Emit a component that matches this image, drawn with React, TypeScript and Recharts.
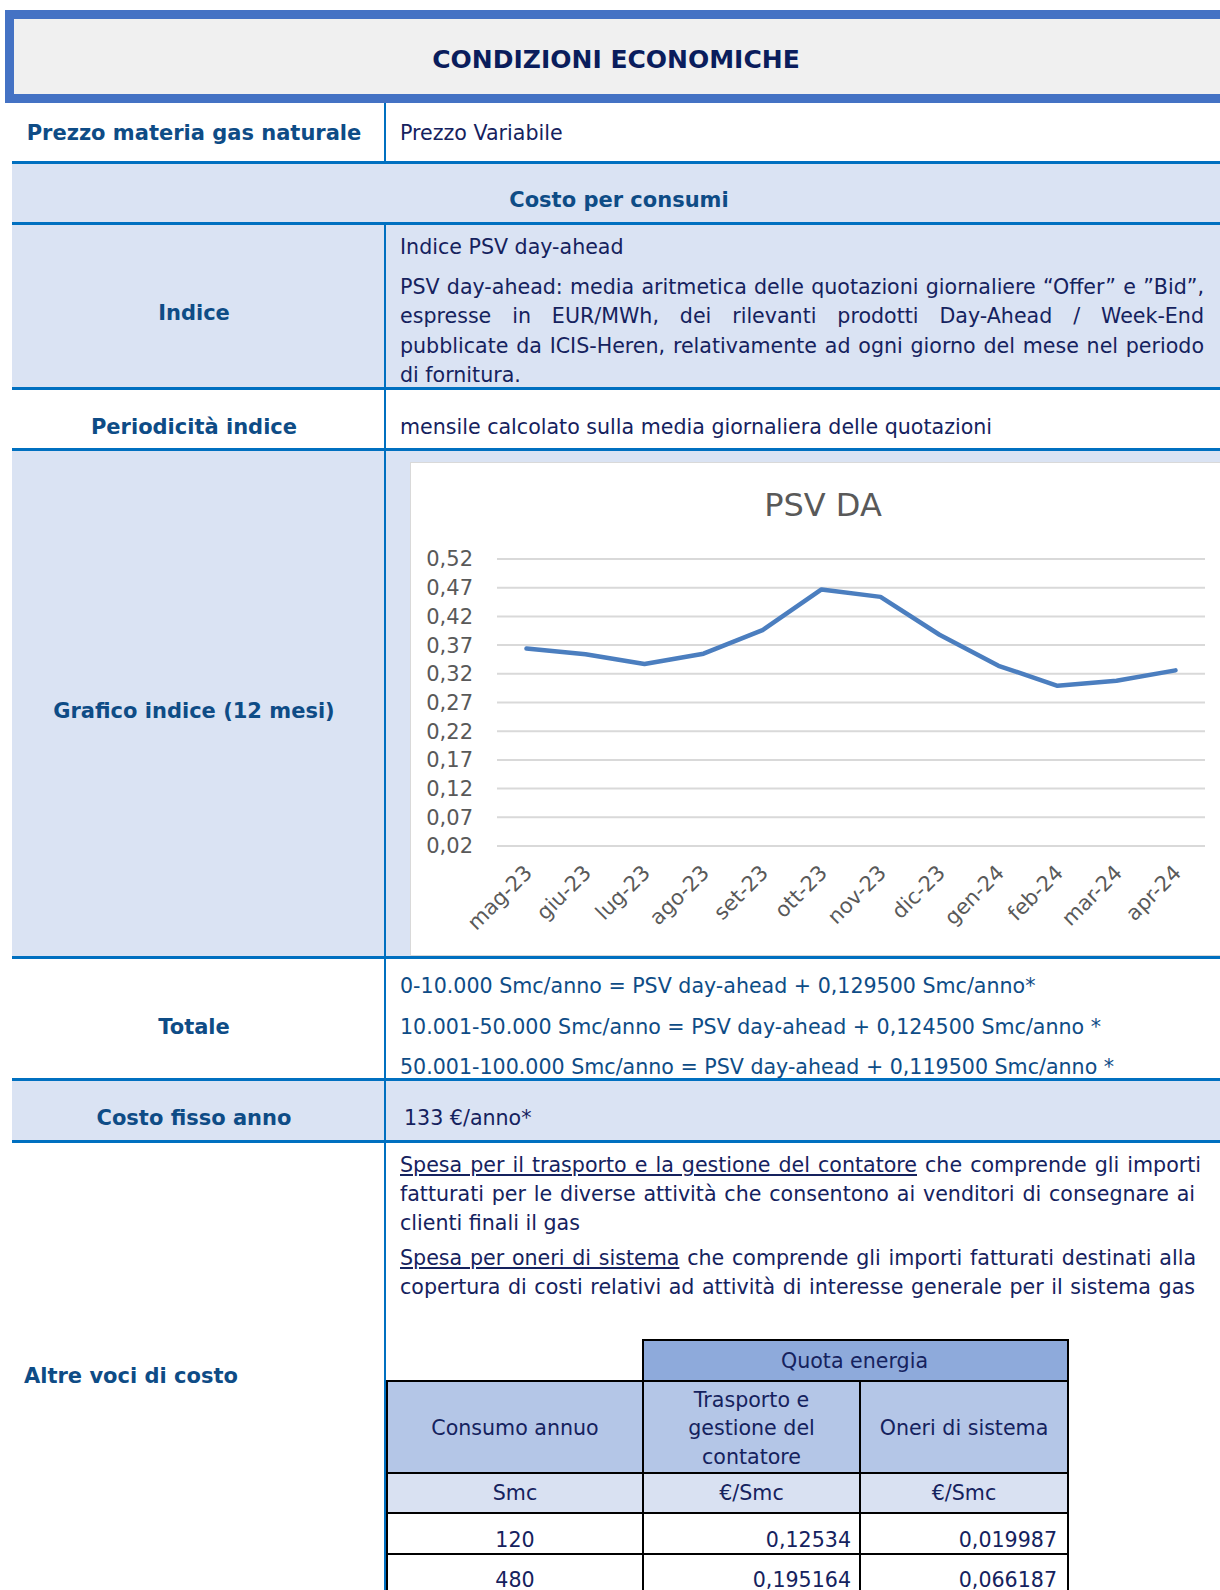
import React from 'react';
import { LineChart, Line, XAxis, YAxis, CartesianGrid } from 'recharts';

const months = ['mag-23', 'giu-23', 'lug-23', 'ago-23', 'set-23', 'ott-23', 'nov-23', 'dic-23', 'gen-24', 'feb-24', 'mar-24', 'apr-24'];
const psvValues = [0.364, 0.354, 0.337, 0.355, 0.396, 0.467, 0.454, 0.388, 0.334, 0.299, 0.308, 0.326];
const yTicks = [0.02, 0.07, 0.12, 0.17, 0.22, 0.27, 0.32, 0.37, 0.42, 0.47, 0.52];

const totaleLines = [
  '0-10.000 Smc/anno = PSV day-ahead + 0,129500 Smc/anno*',
  '10.001-50.000 Smc/anno = PSV day-ahead + 0,124500 Smc/anno *',
  '50.001-100.000 Smc/anno = PSV day-ahead + 0,119500 Smc/anno *',
];
const indiceLines = [
  'PSV day-ahead: media aritmetica delle quotazioni giornaliere \u201COffer\u201D e \u201DBid\u201D,',
  'espresse in EUR/MWh, dei rilevanti prodotti Day-Ahead / Week-End',
  'pubblicate da ICIS-Heren, relativamente ad ogni giorno del mese nel periodo',
  'di fornitura.',
];
const tableHeaders = ['Consumo annuo', 'Trasporto e|gestione del|contatore', 'Oneri di sistema'];
const tableUnits = ['Smc', '\u20AC/Smc', '\u20AC/Smc'];
const consumi = ['120', '480'];
const trasporto = ['0,12534', '0,195164'];
const oneri = ['0,019987', '0,066187'];

const data = months.map((m, i) => ({ m, v: psvValues[i] }));

const FONT = '"DejaVu Sans", Verdana, sans-serif';
const LABEL = '#0E4C86';
const BODY = '#15225E';
const LINE = '#0070C0';
const LIGHT = '#DAE3F3';

type TP = { x: number; y: number; w?: number; align?: 'left' | 'center' | 'right'; bold?: boolean; color?: string; size?: number; justify?: boolean; children: React.ReactNode };
const T = ({ x, y, w, align = 'left', bold, color = BODY, size, justify, children }: TP) => (
  <div
    style={{
      position: 'absolute',
      left: align === 'center' && w === undefined ? x - 300 : x,
      top: y - 15,
      width: w !== undefined ? w : align === 'center' ? 600 : undefined,
      height: 30,
      lineHeight: '30px',
      fontSize: size !== undefined ? size : bold ? 21 : 20.6,
      fontWeight: bold ? 700 : 400,
      color,
      textAlign: justify ? 'justify' : align,
      textAlignLast: justify ? 'justify' : undefined,
      whiteSpace: 'nowrap',
      fontFamily: FONT,
    } as React.CSSProperties}
  >
    {children}
  </div>
);

const Box = ({ x, y, w, h, bg, style }: { x: number; y: number; w: number; h: number; bg?: string; style?: React.CSSProperties }) => (
  <div style={{ position: 'absolute', left: x, top: y, width: w, height: h, background: bg, boxSizing: 'border-box', ...style }} />
);

const XTick = (props: any) => {
  const { x, y, payload } = props;
  const ax = x + 7;
  const ay = y + 20;
  return (
    <text x={ax} y={ay} transform={`rotate(-45, ${ax}, ${ay})`} textAnchor="end" fill="#595959" fontSize={21} fontFamily={FONT}>
      {payload.value}
    </text>
  );
};

const Chart = () => (
  <div style={{ position: 'absolute', left: 410, top: 462, width: 830, height: 494, background: '#fff', border: '1px solid #D9D9D9', boxSizing: 'border-box' }}>
    <div style={{ position: 'absolute', left: 412 - 200, top: 22, width: 400, textAlign: 'center', fontSize: 32, color: '#595959', fontFamily: FONT, lineHeight: '40px' }}>PSV DA</div>
    <div style={{ position: 'absolute', left: -1, top: -1 }}>
      <LineChart width={810} height={493} data={data} margin={{ top: 97, right: 15, bottom: 0, left: 0 }}>
        <CartesianGrid horizontal vertical={false} stroke="#D9D9D9" strokeWidth={2} />
        <XAxis dataKey="m" height={109} axisLine={false} tickLine={false} interval={0} padding={{ left: 29.5, right: 29.5 }} tick={<XTick />} />
        <YAxis
          width={87}
          domain={[0.02, 0.52]}
          ticks={yTicks}
          type="number"
          axisLine={false}
          tickLine={false}
          tickSize={0}
          tickMargin={24}
          interval={0}
          tick={{ fill: '#595959', fontSize: 21, fontFamily: FONT }}
          tickFormatter={(v: number) => v.toFixed(2).replace('.', ',')}
        />
        <Line dataKey="v" stroke="#4B7EBF" strokeWidth={4.5} dot={false} isAnimationActive={false} strokeLinejoin="round" strokeLinecap="round" />
      </LineChart>
    </div>
  </div>
);

const hLines = [161, 222, 387, 448, 956, 1078, 1140];

export default function App() {
  const colX = [386, 642, 859, 1067];
  const rowY = [1380, 1472, 1512, 1553, 1594];
  const border = '2.5px solid #000';
  return (
    <div style={{ position: 'absolute', left: 0, top: 0, width: 1220, height: 1590, overflow: 'hidden', background: '#fff', fontFamily: FONT }}>
      {/* header */}
      <Box x={5} y={10} w={1230} h={93} bg="#F0F0F0" style={{ borderTop: '9px solid #4472C4', borderBottom: '9px solid #4472C4', borderLeft: '9px solid #4472C4' }} />
      <T x={616} y={60} align="center" bold size={25} color="#0A1D5C">CONDIZIONI ECONOMICHE</T>

      {/* light rows */}
      <Box x={12} y={162} w={1210} h={62} bg={LIGHT} />
      <Box x={12} y={224} w={1210} h={164} bg={LIGHT} />
      <Box x={12} y={450} w={1210} h={507} bg={LIGHT} />
      <Box x={12} y={1080} w={1210} h={62} bg={LIGHT} />

      {hLines.map((y) => (
        <Box key={y} x={12} y={y} w={1210} h={3} bg={LINE} />
      ))}
      <Box x={384} y={103} w={2} h={59} bg={LINE} />
      <Box x={384} y={224} w={2} h={1370} bg={LINE} />

      {/* row 1 */}
      <T x={194} y={133} align="center" bold color={LABEL}>Prezzo materia gas naturale</T>
      <T x={400} y={133}>Prezzo Variabile</T>

      <T x={619} y={200} align="center" bold color={LABEL}>Costo per consumi</T>

      <T x={194} y={313} align="center" bold color={LABEL}>Indice</T>
      <T x={400} y={247}>Indice PSV day-ahead</T>
      {indiceLines.map((l, i) => (
        <T key={i} x={400} y={287 + i * 29.3} w={804} justify={i < indiceLines.length - 1}>{l}</T>
      ))}

      <T x={194} y={427} align="center" bold color={LABEL}>Periodicità indice</T>
      <T x={400} y={427}>mensile calcolato sulla media giornaliera delle quotazioni</T>

      <T x={194} y={711} align="center" bold color={LABEL}>Grafico indice (12 mesi)</T>
      <Chart />

      <T x={194} y={1027} align="center" bold color={LABEL}>Totale</T>
      {totaleLines.map((l, i) => (
        <T key={i} x={400} y={986 + i * 40.5} color={LABEL}>{l}</T>
      ))}

      <T x={194} y={1118} align="center" bold color={LABEL}>Costo fisso anno</T>
      <T x={404} y={1118}>133 €/anno*</T>

      <T x={24} y={1376} bold color={LABEL}>Altre voci di costo</T>
      <T x={400} y={1165} w={801} justify><span style={{ textDecoration: 'underline' }}>Spesa per il trasporto e la gestione del contatore</span> che comprende gli importi</T>
      <T x={400} y={1194} w={795} justify>fatturati per le diverse attività che consentono ai venditori di consegnare ai</T>
      <T x={400} y={1223}>clienti finali il gas</T>
      <T x={400} y={1258} w={796} justify><span style={{ textDecoration: 'underline' }}>Spesa per oneri di sistema</span> che comprende gli importi fatturati destinati alla</T>
      <T x={400} y={1287} w={795} justify>copertura di costi relativi ad attività di interesse generale per il sistema gas</T>

      {/* table */}
      <Box x={colX[1]} y={1339} w={colX[3] - colX[1] + 2} h={rowY[0] - 1339 + 2} bg="#8EAADB" style={{ border }} />
      <T x={(colX[1] + colX[3]) / 2} y={1361} align="center">Quota energia</T>
      {[0, 1, 2].map((c) => (
        <Box key={'h' + c} x={colX[c]} y={rowY[0]} w={colX[c + 1] - colX[c] + 2} h={rowY[1] - rowY[0] + 2} bg="#B4C6E7" style={{ border }} />
      ))}
      {[0, 1, 2].map((c) => (
        <Box key={'u' + c} x={colX[c]} y={rowY[1]} w={colX[c + 1] - colX[c] + 2} h={rowY[2] - rowY[1] + 2} bg="#D9E1F2" style={{ border }} />
      ))}
      {[0, 1].map((r) =>
        [0, 1, 2].map((c) => (
          <Box key={'r' + r + c} x={colX[c]} y={rowY[2 + r]} w={colX[c + 1] - colX[c] + 2} h={rowY[3 + r] - rowY[2 + r] + 2} bg="#fff" style={{ border }} />
        ))
      )}
      {tableHeaders.map((h, c) => {
        const parts = h.split('|');
        const cx = (colX[c] + colX[c + 1]) / 2 + 1;
        return parts.map((p, k) => (
          <T key={c + '-' + k} x={cx} y={1428 + (k - (parts.length - 1) / 2) * 28.5} align="center">{p}</T>
        ));
      })}
      {tableUnits.map((u, c) => (
        <T key={'tu' + c} x={(colX[c] + colX[c + 1]) / 2 + 1} y={1493} align="center">{u}</T>
      ))}
      {consumi.map((v, r) => (
        <React.Fragment key={'row' + r}>
          <T x={(colX[0] + colX[1]) / 2 + 1} y={1540 + r * 40} align="center">{v}</T>
          <T x={colX[1]} y={1540 + r * 40} w={colX[2] - colX[1] - 8} align="right">{trasporto[r]}</T>
          <T x={colX[2]} y={1540 + r * 40} w={colX[3] - colX[2] - 10} align="right">{oneri[r]}</T>
        </React.Fragment>
      ))}
    </div>
  );
}
